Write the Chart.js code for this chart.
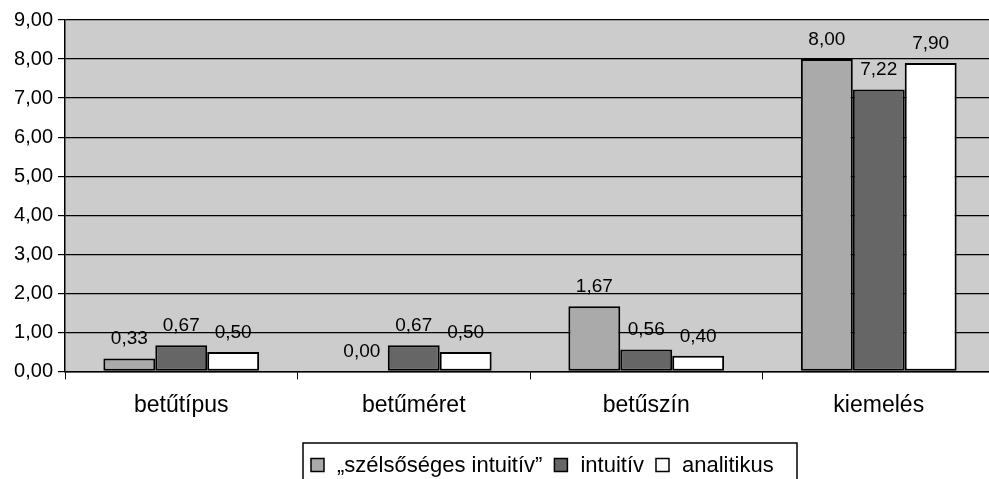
<!DOCTYPE html>
<html>
<head>
<meta charset="utf-8">
<script src="https://cdn.jsdelivr.net/npm/chart.js@4.4.0/dist/chart.umd.min.js"></script>
<style>
    body { margin: 0; background: #ffffff; overflow: hidden; }
    #wrap { width: 995px; height: 479px; }
</style>
</head>
<body>
<div id="wrap"><canvas id="chart"></canvas></div>
<script>
const categories = ['betűtípus', 'betűméret', 'betűszín', 'kiemelés'];
const seriesNames = ['„szélsőséges intuitív”', 'intuitív', 'analitikus'];
const extremeIntuitive = [0.33, 0.00, 1.67, 8.00];
const intuitive = [0.67, 0.67, 0.56, 7.22];
const analytic = [0.50, 0.50, 0.40, 7.90];
const yTicks = [0, 1, 2, 3, 4, 5, 6, 7, 8, 9];

const FONT = 'Liberation Sans, Arial, sans-serif';
const fmt = v => v.toFixed(2).replace('.', ',');

// grey plot background
const plotBackground = {
    id: 'plotBackground',
    beforeDraw(chart) {
        const { ctx, chartArea } = chart;
        ctx.save();
        ctx.fillStyle = '#cccccc';
        ctx.fillRect(chartArea.left, chartArea.top, chartArea.right - chartArea.left, chartArea.bottom - chartArea.top);
        ctx.restore();
    }
};

// value labels above the bars
const valueLabels = {
    id: 'valueLabels',
    afterDatasetsDraw(chart) {
        const { ctx } = chart;
        ctx.save();
        ctx.font = '19px ' + FONT;
        ctx.fillStyle = '#000';
        ctx.textAlign = 'center';
        ctx.textBaseline = 'bottom';
        chart.data.datasets.forEach((ds, i) => {
            chart.getDatasetMeta(i).data.forEach((bar, j) => {
                ctx.fillText(fmt(ds.data[j]), bar.x, bar.y - 10);
            });
        });
        ctx.restore();
    }
};

// framed legend at the bottom
const boxLegend = {
    id: 'boxLegend',
    afterDraw(chart) {
        const { ctx } = chart;
        ctx.save();
        ctx.font = '22px ' + FONT;
        ctx.textBaseline = 'middle';
        const box = 13, gapBox = 13, gapItem = 12;
        const frameL = 303, frameR = 797, cy = 465;
        let x = frameL + 8;
        ctx.strokeStyle = '#000';
        ctx.lineWidth = 1.5;
        ctx.strokeRect(frameL, 443, frameR - frameL, 60);
        chart.data.datasets.forEach((ds, i) => {
            ctx.fillStyle = ds.backgroundColor;
            ctx.fillRect(x, cy - box / 2, box, box);
            ctx.lineWidth = 1.5;
            ctx.strokeRect(x, cy - box / 2, box, box);
            ctx.fillStyle = '#000';
            ctx.fillText(ds.label, x + box + gapBox, cy + 1);
            x += box + gapBox + ctx.measureText(ds.label).width + gapItem;
        });
        ctx.restore();
    }
};

const colors = ['#aaaaaa', '#666666', '#ffffff'];
const values = [extremeIntuitive, intuitive, analytic];

new Chart(document.getElementById('chart'), {
    type: 'bar',
    data: {
        labels: categories,
        datasets: values.map((d, i) => ({
            label: seriesNames[i],
            data: d,
            backgroundColor: colors[i],
            borderColor: '#000000',
            borderWidth: 2,
            borderSkipped: false,
            categoryPercentage: 0.67,
            barPercentage: 1.0
        }))
    },
    options: {
        responsive: true,
        maintainAspectRatio: false,
        animation: false,
        layout: { padding: { top: 20, right: 0, bottom: 48, left: 0 } },
        scales: {
            x: {
                grid: {
                    offset: true,
                    drawOnChartArea: false,
                    color: '#000',
                    tickLength: 8
                },
                border: { color: '#000', width: 1.5 },
                ticks: {
                    color: '#000',
                    padding: 12,
                    font: { family: FONT, size: 23 }
                }
            },
            y: {
                min: 0,
                max: 9,
                afterBuildTicks(scale) {
                    scale.ticks = yTicks.map(v => ({ value: v }));
                },
                afterFit(scale) { scale.width = 65; },
                grid: {
                    color: '#000',
                    lineWidth: 1.2,
                    tickLength: 7
                },
                border: { color: '#000', width: 1.5 },
                ticks: {
                    color: '#000',
                    padding: 5,
                    font: { family: FONT, size: 20 },
                    callback: v => fmt(v)
                }
            }
        },
        plugins: {
            legend: { display: false },
            tooltip: { enabled: false }
        }
    },
    plugins: [plotBackground, valueLabels, boxLegend]
});
</script>
</body>
</html>
